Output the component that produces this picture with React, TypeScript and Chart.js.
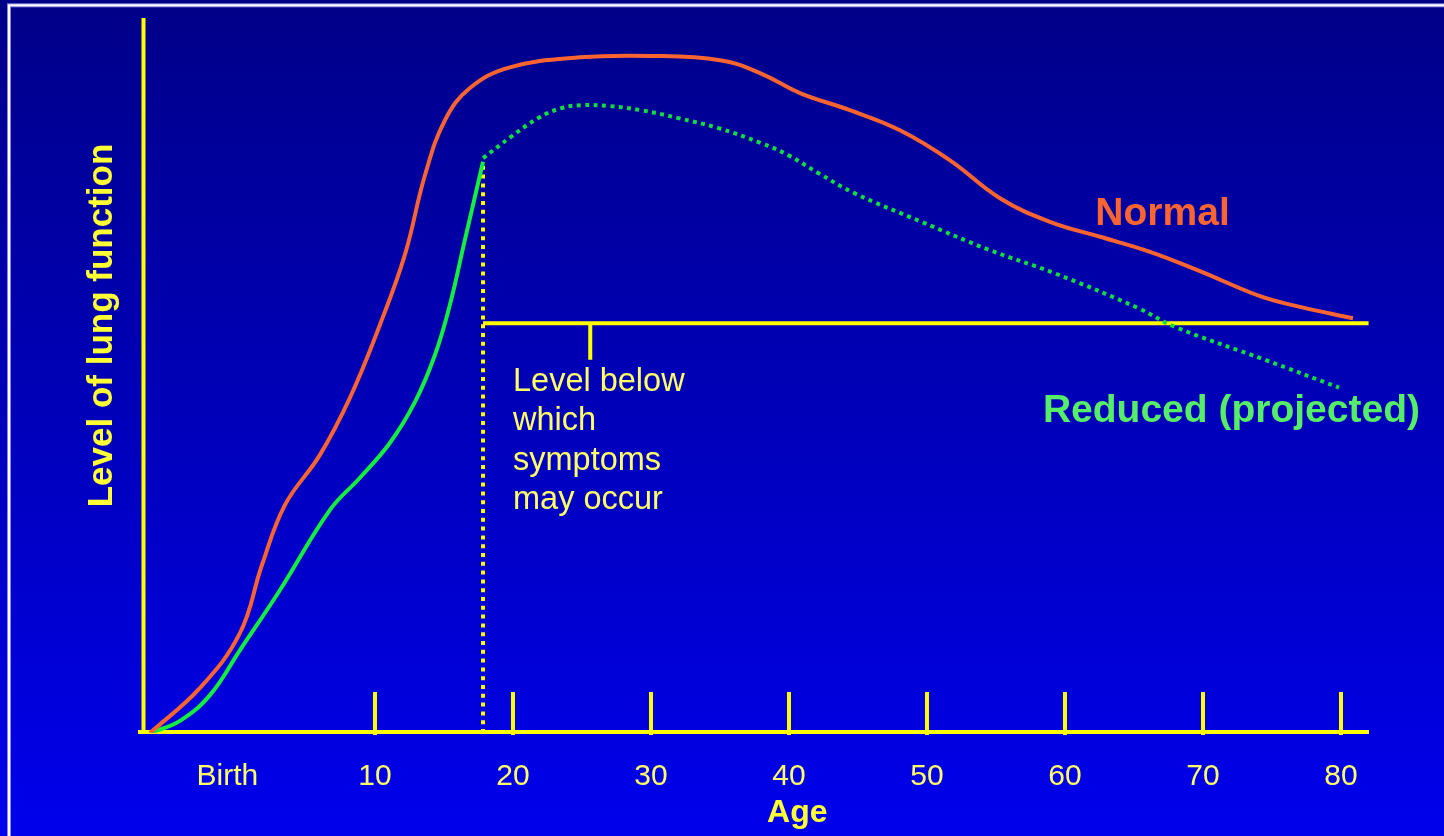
import React, { useEffect, useRef } from "react";
import { Chart, registerables } from "chart.js";

Chart.register(...registerables);

// ---- data (age in years, lung function level 0..100) ----
const normalAges = [-6.3, -2.68, 0.22, 1.81, 3.48, 6.01, 8.19, 10.36, 12.17, 13.62, 15.07, 16.88, 19.78, 24.86, 29.93, 35.0, 37.9, 40.8, 44.42, 48.04, 51.67, 55.29, 58.91, 62.54, 66.16, 69.78, 74.13, 77.03, 80.87];
const normalValues = [0, 6.3, 14.0, 23.5, 31.9, 38.9, 46.9, 57.1, 66.9, 78.0, 85.7, 90.2, 93.1, 94.5, 94.7, 94.1, 92.3, 89.5, 87.1, 84.3, 80.1, 74.8, 71.5, 69.4, 67.3, 64.6, 61.1, 59.6, 58.0];

const reducedAges = [-6.3, -4.13, -1.96, 0.22, 3.12, 6.74, 8.91, 11.09, 12.9, 14.35, 15.43, 16.52, 17.83];
const reducedValues = [0, 1.7, 5.3, 11.6, 20.0, 31.2, 35.7, 40.6, 46.3, 52.9, 59.9, 69.0, 79.9];

const projectedAges = [17.83, 19.87, 21.83, 23.5, 24.95, 26.91, 29.3, 31.98, 34.88, 38.0, 39.96, 42.14, 44.74, 49.6, 54.46, 59.25, 65.34, 67.96, 74.49, 79.86];
const projectedValues = [80.4, 83.4, 86.0, 87.4, 87.8, 87.7, 87.1, 86.0, 84.6, 82.5, 80.8, 78.3, 75.5, 71.5, 67.6, 64.3, 59.4, 56.8, 52.2, 48.3];

const symptomLevel = 57.3;
const symptomLineAges = [17.83, 82.0];
const projectionStartAge = 17.83;
const projectionStartTop = 79.9;
const pointerAge = 25.6;
const pointerValues = [57.3, 52.2];

const xTickAges = [0, 10, 20, 30, 40, 50, 60, 70, 80];
const xTickLabels = ["Birth", "10", "20", "30", "40", "50", "60", "70", "80"];
const xTickMarkAges = [10, 20, 30, 40, 50, 60, 70, 80];

const symptomText = ["Level below", "which", "symptoms", "may occur"];

const FONT = '"Liberation Sans", Arial, sans-serif';
const YELLOW = "#FFFF00";
const TEXT_YELLOW = "#FFFF66";
const ORANGE = "#FA6430";
const GREEN = "#14EE3C";

const pts = (xs: number[], ys: number[]) => xs.map((x, i) => ({ x, y: ys[i] }));

const backgroundPlugin = {
  id: "bgFrame",
  beforeDraw(chart: any) {
    const { ctx, width, height } = chart;
    ctx.save();
    const g = ctx.createLinearGradient(0, 0, 0, height);
    g.addColorStop(0, "#000088");
    g.addColorStop(1, "#0000EC");
    ctx.fillStyle = g;
    ctx.fillRect(0, 0, width, height);
    ctx.strokeStyle = "rgba(190,190,255,0.7)";
    ctx.lineWidth = 4;
    ctx.strokeRect(9, 5.3, width + 20, height + 20);
    ctx.strokeStyle = "#FFFFFF";
    ctx.lineWidth = 2;
    ctx.strokeRect(9, 5.3, width + 20, height + 20);
    ctx.restore();
  },
};

const axesPlugin = {
  id: "axesDecor",
  beforeDatasetsDraw(chart: any) {
    const { ctx, chartArea } = chart;
    const xs = chart.scales.x;
    ctx.save();
    ctx.strokeStyle = YELLOW;
    ctx.lineWidth = 4;
    ctx.lineCap = "butt";
    ctx.beginPath();
    ctx.moveTo(chartArea.left + 0.5, chartArea.top);
    ctx.lineTo(chartArea.left + 0.5, chartArea.bottom + 1);
    ctx.moveTo(chartArea.left - 5, chartArea.bottom - 1);
    ctx.lineTo(chartArea.right, chartArea.bottom - 1);
    xTickMarkAges.forEach((a) => {
      const px = xs.getPixelForValue(a);
      ctx.moveTo(px, chartArea.bottom + 2);
      ctx.lineTo(px, chartArea.bottom - 41);
    });
    ctx.stroke();
    ctx.restore();
  },
  afterDatasetsDraw(chart: any) {
    const { ctx, chartArea } = chart;
    const xs = chart.scales.x;
    const ys = chart.scales.y;
    ctx.save();
    // tick labels
    ctx.fillStyle = TEXT_YELLOW;
    ctx.font = `30px ${FONT}`;
    ctx.textAlign = "center";
    ctx.textBaseline = "alphabetic";
    xTickAges.forEach((a, i) => {
      const px = xs.getPixelForValue(a === 0 ? -0.7 : a);
      ctx.fillText(xTickLabels[i], px, chartArea.bottom + 52);
    });
    // x title
    ctx.fillStyle = "#FFFF33";
    ctx.font = `bold 32px ${FONT}`;
    ctx.fillText("Age", xs.getPixelForValue(40.6), chartArea.bottom + 89);
    // y title
    ctx.save();
    ctx.translate(112, (chartArea.top + chartArea.bottom) / 2 - 50);
    ctx.rotate(-Math.PI / 2);
    ctx.font = `bold 35px ${FONT}`;
    ctx.textAlign = "center";
    ctx.fillText("Level of lung function", 0, 0);
    ctx.restore();
    // symptoms note
    ctx.fillStyle = TEXT_YELLOW;
    ctx.font = `32.5px ${FONT}`;
    ctx.textAlign = "left";
    const nx = xs.getPixelForValue(20.0);
    const ny = ys.getPixelForValue(47.9);
    symptomText.forEach((t, i) => ctx.fillText(t, nx, ny + i * 39.5));
    // series labels
    ctx.font = `bold 39px ${FONT}`;
    ctx.fillStyle = ORANGE;
    ctx.fillText("Normal", xs.getPixelForValue(62.2), ys.getPixelForValue(71.0));
    ctx.fillStyle = "#55EE66";
    ctx.fillText("Reduced (projected)", xs.getPixelForValue(58.4), ys.getPixelForValue(43.5));
    ctx.restore();
  },
};

export default function App() {
  const ref = useRef<HTMLCanvasElement | null>(null);
  useEffect(() => {
    if (!ref.current) return;
    const chart = new Chart(ref.current, {
      type: "line",
      data: {
        datasets: [
          {
            label: "Normal",
            data: pts(normalAges, normalValues),
            borderColor: ORANGE,
            borderWidth: 4,
            pointRadius: 0,
            tension: 0.4,
            fill: false,
          },
          {
            label: "Reduced",
            data: pts(reducedAges, reducedValues),
            borderColor: GREEN,
            borderWidth: 4,
            pointRadius: 0,
            tension: 0.4,
            fill: false,
          },
          {
            label: "Reduced (projected)",
            data: pts(projectedAges, projectedValues),
            borderColor: "#10DD40",
            borderWidth: 4,
            borderDash: [4, 4.4],
            pointRadius: 0,
            tension: 0.4,
            fill: false,
          },
          {
            label: "Symptom level",
            data: pts(symptomLineAges, [symptomLevel, symptomLevel]),
            borderColor: YELLOW,
            borderWidth: 4,
            pointRadius: 0,
            fill: false,
          },
          {
            label: "Pointer",
            data: pts([pointerAge, pointerAge], pointerValues),
            borderColor: YELLOW,
            borderWidth: 4,
            pointRadius: 0,
            fill: false,
          },
          {
            label: "Projection start",
            data: pts([projectionStartAge, projectionStartAge], [0, projectionStartTop]),
            borderColor: YELLOW,
            borderWidth: 4,
            borderDash: [4, 4.8],
            pointRadius: 0,
            fill: false,
          },
        ],
      },
      options: {
        responsive: false,
        animation: false,
        events: [],
        layout: { padding: { left: 143, right: 75, top: 18, bottom: 103 } },
        plugins: {
          legend: { display: false },
          tooltip: { enabled: false },
        },
        scales: {
          x: { type: "linear", min: -6.81, max: 82.03, display: false },
          y: { type: "linear", min: 0, max: 100, display: false },
        },
      },
      plugins: [backgroundPlugin, axesPlugin],
    } as any);
    return () => chart.destroy();
  }, []);
  return (
    <div style={{ position: "fixed", left: 0, top: 0, width: 1444, height: 836 }}>
      <canvas ref={ref} width={1444} height={836} style={{ width: 1444, height: 836, display: "block" }} />
    </div>
  );
}
